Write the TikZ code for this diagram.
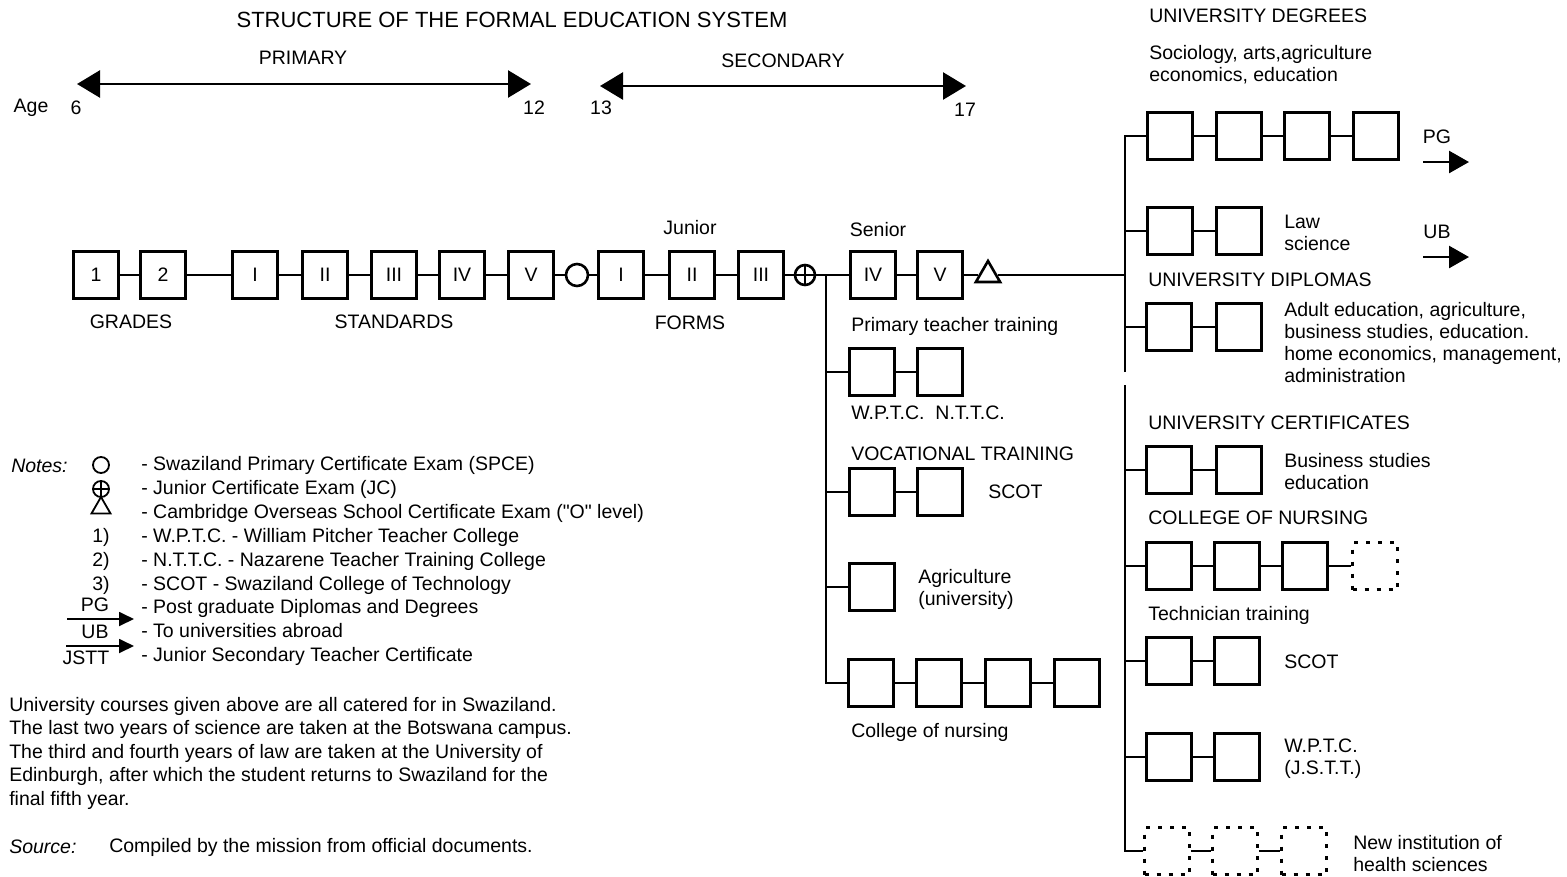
\documentclass[tikz,border=0pt]{standalone}
\usepackage{fontspec}
\setmainfont{Liberation Sans}
\usetikzlibrary{arrows.meta,shapes.geometric}
\newcommand{\straightq}{\XeTeXglyph\XeTeXcharglyph"22\relax}
\begin{document}
\begin{tikzpicture}[x=1pt,y=-1pt,line width=2.6pt,
  box/.style={draw, minimum width=45pt, minimum height=47pt, inner sep=0pt, font=\fontsize{19.5}{20}\selectfont},
  dbox/.style={box, dash pattern=on 4pt off 8pt},
  tx/.style={inner sep=0pt, anchor=west, align=left, font=\fontsize{19.5}{22}\selectfont},
  ctx/.style={inner sep=0pt, font=\fontsize{19.5}{22}\selectfont},
  itx/.style={inner sep=0pt, anchor=west, font=\fontsize{19.5}{22}\selectfont\itshape},
  circ/.style={circle, draw, minimum size=22pt, inner sep=0pt},
  oplus/.style={circle, draw, minimum size=20pt, inner sep=0pt,
    path picture={\draw (path picture bounding box.north) -- (path picture bounding box.south)
      (path picture bounding box.west) -- (path picture bounding box.east);}},
  tri/.style={regular polygon, regular polygon sides=3, draw, minimum size=28pt, inner sep=0pt},
  bigtip/.style={{Triangle[length=23pt,width=27pt]}-{Triangle[length=23pt,width=27pt]}},
  midtip/.style={-{Triangle[length=20pt,width=22pt]}},
  smalltip/.style={line width=1.8pt,-{Triangle[length=15pt,width=14pt]}},
]
\useasboundingbox (0,0) rectangle (1567,876);

% ---- top ----
\node[ctx, font=\fontsize{22}{24}\selectfont] (title) at (512,20) {STRUCTURE OF THE FORMAL EDUCATION SYSTEM};
\node[ctx] (primary) at (303,58) {PRIMARY};
\node[ctx] (secondary) at (783,61) {SECONDARY};
\coordinate (pa) at (77,84); \coordinate (pb) at (531,84);
\draw[bigtip] (pa) -- (pb);
\coordinate (sa) at (600,86); \coordinate (sb) at (966,86);
\draw[bigtip] (sa) -- (sb);
\node[ctx] (age) at (31,108) {Age};
\node[ctx] (a6) at (76,108) {6};
\node[ctx] (a12) at (534,108) {12};
\node[ctx] (a13) at (601,108) {13};
\node[ctx] (a17) at (965,110) {17};

% ---- main row ----
\node[box] (g1) at (96,275) {1};
\node[box] (g2) at (163,275) {2};
\node[box] (st1) at (255,275) {I};
\node[box] (st2) at (325,275) {II};
\node[box] (st3) at (394,275) {III};
\node[box] (st4) at (462,275) {IV};
\node[box] (st5) at (531,275) {V};
\node[circ] (spce) at (577,275) {};
\node[box] (fm1) at (621,275) {I};
\node[box] (fm2) at (692,275) {II};
\node[box] (fm3) at (761,275) {III};
\node[oplus] (jc) at (805,275) {};
\coordinate (vl) at (826,275);
\node[box] (fm4) at (873,275) {IV};
\node[box] (fm5) at (940,275) {V};
\node[tri] (cose) at (988,275) {};
\coordinate (rj) at (1125,275);
\draw (g1) -- (g2) -- (st1) -- (st2) -- (st3) -- (st4) -- (st5) -- (spce) -- (fm1) -- (fm2) -- (fm3) -- (jc) -- (fm4) -- (fm5) -- (cose);
\draw (cose) -- (rj);

\node[ctx] (junior) at (690,228) {Junior};
\node[ctx] (senior) at (878,230) {Senior};
\node[ctx] (grades) at (131,322) {GRADES};
\node[ctx] (standards) at (394,322) {STANDARDS};
\node[ctx] (forms) at (690,323) {FORMS};

% ---- left branch ----
\node[tx] (ptt) at (850,326) {Primary teacher training};
\node[box] (ptt1) at (872,372) {};
\node[box] (ptt2) at (940,372) {};
\node[tx] (wn) at (850,413) {W.P.T.C.\ \ N.T.T.C.};
\node[tx] (voc) at (850,454) {VOCATIONAL TRAINING};
\node[box] (voc1) at (872,492) {};
\node[box] (voc2) at (940,492) {};
\node[tx] (scot1) at (987,492) {SCOT};
\node[box] (agr) at (872,587) {};
\node[tx] (agrt) at (917,589) {Agriculture\\(university)};
\node[box] (cn1) at (871,683) {};
\node[box] (cn2) at (939,683) {};
\node[box] (cn3) at (1008,683) {};
\node[box] (cn4) at (1077,683) {};
\node[tx] (cnt) at (850,732) {College of nursing};
\draw (vl) |- (cn1);
\draw (cn1) -- (cn2) -- (cn3) -- (cn4);
\draw (vl |- ptt1) -- (ptt1) -- (ptt2);
\draw (vl |- voc1) -- (voc1) -- (voc2);
\draw (vl |- agr) -- (agr);

% ---- right side ----
\node[tx] (udeg) at (1148,16) {UNIVERSITY DEGREES};
\node[tx] (socio) at (1148,65) {Sociology, arts,agriculture\\economics, education};
\node[box] (ud1) at (1170,136) {};
\node[box] (ud2) at (1239,136) {};
\node[box] (ud3) at (1307,136) {};
\node[box] (ud4) at (1376,136) {};
\node[ctx] (pg) at (1437,137) {PG};
\coordinate (pga) at (1423,162); \coordinate (pgb) at (1469,162);
\draw[midtip] (pga) -- (pgb);
\node[box] (law1) at (1170,231) {};
\node[box] (law2) at (1239,231) {};
\node[tx] (law) at (1283,233) {Law\\science};
\node[ctx] (ub) at (1437,232) {UB};
\coordinate (uba) at (1423,257); \coordinate (ubb) at (1469,257);
\draw[midtip] (uba) -- (ubb);
\node[tx] (udip) at (1147,280) {UNIVERSITY DIPLOMAS};
\node[box] (dip1) at (1169,327) {};
\node[box] (dip2) at (1239,327) {};
\node[tx] (dipt) at (1283,343) {Adult education, agriculture,\\business studies, education.\\home economics, management,\\administration};
\node[tx] (ucert) at (1147,423) {UNIVERSITY CERTIFICATES};
\node[box] (cert1) at (1169,470) {};
\node[box] (cert2) at (1239,470) {};
\node[tx] (certt) at (1283,472) {Business studies\\education};
\node[tx] (con) at (1147,518) {COLLEGE OF NURSING};
\node[box] (nur1) at (1169,566) {};
\node[box] (nur2) at (1237,566) {};
\node[box] (nur3) at (1305,566) {};
\node[dbox] (nur4) at (1375,566) {};
\node[tx] (techt) at (1147,615) {Technician training};
\node[box] (tech1) at (1169,661) {};
\node[box] (tech2) at (1237,661) {};
\node[tx] (scot2) at (1283,662) {SCOT};
\node[box] (wp1) at (1169,757) {};
\node[box] (wp2) at (1237,757) {};
\node[tx] (wpt) at (1283,759) {W.P.T.C.\\(J.S.T.T.)};
\node[dbox] (new1) at (1167,851) {};
\node[dbox] (new2) at (1235,851) {};
\node[dbox] (new3) at (1304,851) {};
\node[tx] (newt) at (1352,854) {New institution of\\health sciences};

\coordinate (rg1) at (1125,372);
\coordinate (rg2) at (1125,385);
\draw (rg1) |- (ud1);
\draw (rg2) |- (new1);
\draw (ud1) -- (ud2) -- (ud3) -- (ud4);
\draw (rg1 |- law1) -- (law1) -- (law2);
\draw (rg1 |- dip1) -- (dip1) -- (dip2);
\draw (rg2 |- cert1) -- (cert1) -- (cert2);
\draw (rg2 |- nur1) -- (nur1) -- (nur2) -- (nur3) -- (nur4);
\draw (rg2 |- tech1) -- (tech1) -- (tech2);
\draw (rg2 |- wp1) -- (wp1) -- (wp2);
\draw (new1) -- (new2) -- (new3);

% ---- notes ----
\node[itx] (notes) at (10,466) {Notes:};
\node[circ, minimum size=16pt, line width=1.8pt] (lc) at (101,465) {};
\node[oplus, minimum size=16pt, line width=1.8pt] (lj) at (101,489) {};
\node[tri, minimum size=22pt, line width=1.8pt] (lt) at (101,508) {};
\node[ctx] (l1) at (101,537) {1)};
\node[ctx] (l2) at (101,561) {2)};
\node[ctx] (l3) at (101,585) {3)};
\node[ctx] (lpg) at (95,605) {PG};
\coordinate (lpa) at (67,619); \coordinate (lpb) at (134,619);
\draw[smalltip] (lpa) -- (lpb);
\node[ctx] (lub) at (95,632) {UB};
\coordinate (lua) at (66,646); \coordinate (lub2) at (134,646);
\draw[smalltip] (lua) -- (lub2);
\node[ctx] (ljs) at (86,658) {JSTT};
\node[tx] (n1) at (140,465) {- Swaziland Primary Certificate Exam (SPCE)};
\node[tx] (n2) at (140,489) {- Junior Certificate Exam (JC)};
\node[tx] (n3) at (140,513) {- Cambridge Overseas School Certificate Exam (\straightq O\straightq\ level)};
\node[tx] (n4) at (140,537) {- W.P.T.C. - William Pitcher Teacher College};
\node[tx] (n5) at (140,561) {- N.T.T.C. - Nazarene Teacher Training College};
\node[tx] (n6) at (140,585) {- SCOT - Swaziland College of Technology};
\node[tx] (n7) at (140,608) {- Post graduate Diplomas and Degrees};
\node[tx] (n8) at (140,631) {- To universities abroad};
\node[tx] (n9) at (140,656) {- Junior Secondary Teacher Certificate};

\node[tx, anchor=north west, font=\fontsize{19.5}{23.5}\selectfont] (body) at (8,696) {University courses given above are all catered for in Swaziland.\\The last two years of science are taken at the Botswana campus.\\The third and fourth years of law are taken at the University of\\Edinburgh, after which the student returns to Swaziland for the\\final fifth year.};
\node[itx] (src) at (8,847) {Source:};
\node[tx] (srct) at (108,847) {Compiled by the mission from official documents.};
\end{tikzpicture}
\end{document}
